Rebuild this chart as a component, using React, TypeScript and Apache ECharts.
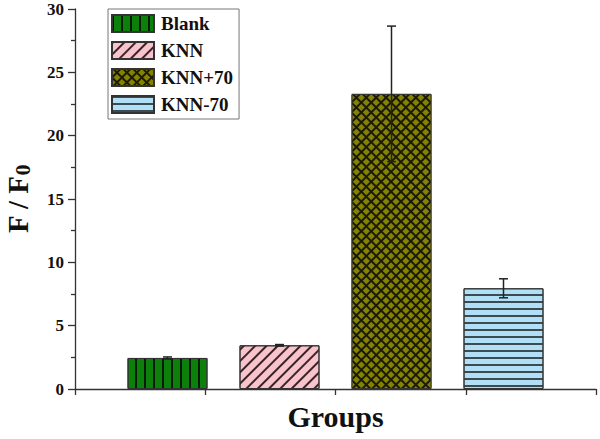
import React, { useEffect, useRef } from "react";
import * as echarts from "echarts";

const groups = ["Blank", "KNN", "KNN+70", "KNN-70"];
const means = [2.45, 3.45, 23.3, 7.95];
const errors = [0.08, 0.06, 5.35, 0.75];
const yTicks = [0, 5, 10, 15, 20, 25, 30];

const BAR_WIDTH = 80;
const BAR_GAP = 0.4;
const FONT = "'Liberation Serif', 'Times New Roman', serif";

const decals: any[] = [
  { color: "#0a1a0a", dashArrayX: [1.6, 6.4], dashArrayY: [1, 0], symbol: "rect" },
  { color: "#3a2328", dashArrayX: [1, 0], dashArrayY: [1.3, 5.7], rotation: -Math.PI / 4, symbol: "rect" },
  { color: "#848200", dashArrayX: [4.2, 1.5], dashArrayY: [4.2, 1.5], rotation: Math.PI / 4, symbol: "rect" },
  { color: "#3c4a52", dashArrayX: [1, 0], dashArrayY: [1.1, 4.2], symbol: "rect" },
];
const baseColors = ["#0b800b", "#f9c3cb", "#1a1a05", "#b1e0f6"];

export default function App() {
  const ref = useRef<HTMLDivElement>(null);
  useEffect(() => {
    if (!ref.current) return;
    const chart = echarts.init(ref.current, undefined, { renderer: "svg" });
    const barSeries = groups.map((g, i) => ({
      name: g,
      type: "bar",
      xAxisIndex: 0,
      data: [means[i]],
      barWidth: BAR_WIDTH,
      barGap: `${BAR_GAP * 100}%`,
      itemStyle: {
        color: baseColors[i],
        borderColor: "#333",
        borderWidth: 1,
        decal: decals[i],
      },
    }));
    const errData = groups.map((g, i) => [0, i, means[i], errors[i]]);
    const option: any = {
      animation: false,
      aria: { enabled: false, decal: { show: true } },
      grid: { left: 75, right: 4, top: 9, bottom: 50, containLabel: false, outerBoundsMode: "none" },
      legend: {
        left: 108,
        top: 9,
        orient: "vertical",
        itemWidth: 42,
        itemHeight: 17,
        itemGap: 8,
        padding: [5, 6, 5, 3],
        borderColor: "#777",
        borderWidth: 1,
        icon: "rect",
        textStyle: { fontFamily: FONT, fontWeight: "bold", fontSize: 19, color: "#111", padding: [0, 0, 0, 2] },
        data: groups,
      },
      xAxis: [
        {
          type: "category",
          data: ["Groups"],
          axisLine: { show: false },
          axisTick: { show: false },
          axisLabel: { show: false },
          name: "Groups",
          nameLocation: "middle",
          nameGap: 12,
          nameTextStyle: { fontFamily: FONT, fontWeight: "bold", fontSize: 30, color: "#111" },
        },
        {
          type: "value",
          min: 0,
          max: 4,
          interval: 1,
          position: "bottom",
          axisLine: { show: true, lineStyle: { color: "#333", width: 1.3 } },
          axisTick: { show: true, length: 6, lineStyle: { color: "#333", width: 1.3 } },
          axisLabel: { show: false },
          splitLine: { show: false },
        },
      ],
      yAxis: {
        type: "value",
        min: 0,
        max: 30,
        interval: 5,
        name: "F / F{sub|0}",
        nameLocation: "middle",
        nameGap: 42,
        nameTextStyle: {
          fontFamily: FONT,
          fontWeight: "bold",
          fontSize: 29,
          lineHeight: 30,
          color: "#111",
          rich: {
            sub: { fontFamily: FONT, fontWeight: "bold", fontSize: 22, lineHeight: 22, color: "#111", verticalAlign: "bottom" },
          },
        },
        axisLine: { show: true, lineStyle: { color: "#333", width: 1.3 } },
        axisTick: { show: true, length: 7, lineStyle: { color: "#333", width: 1.3 } },
        minorTick: { show: true, splitNumber: 2, length: 4, lineStyle: { color: "#333", width: 1.3 } },
        axisLabel: {
          margin: 11,
          fontFamily: FONT,
          fontWeight: "bold",
          fontSize: 17,
          color: "#111",
          formatter: (v: number) => (yTicks.includes(v) ? String(v) : ""),
        },
        splitLine: { show: false },
      },
      series: [
        ...barSeries,
        {
          type: "custom",
          xAxisIndex: 0,
          data: errData,
          encode: { x: 0, y: 2 },
          silent: true,
          z: 10,
          renderItem: (params: any, api: any) => {
            const idx = api.value(1);
            const m = api.value(2);
            const e = api.value(3);
            const n = groups.length;
            const step = BAR_WIDTH * (1 + BAR_GAP);
            const off = (idx - (n - 1) / 2) * step;
            const top = api.coord([api.value(0), m + e]);
            const bot = api.coord([api.value(0), m - e]);
            const x = top[0] + off;
            const cap = 4.5;
            const style = { stroke: "#222", lineWidth: 1.5 };
            return {
              type: "group",
              children: [
                { type: "line", shape: { x1: x, y1: top[1], x2: x, y2: bot[1] }, style },
                { type: "line", shape: { x1: x - cap, y1: top[1], x2: x + cap, y2: top[1] }, style },
                { type: "line", shape: { x1: x - cap, y1: bot[1], x2: x + cap, y2: bot[1] }, style },
              ],
            };
          },
        },
      ],
    };
    chart.setOption(option);
    return () => chart.dispose();
  }, []);
  return <div ref={ref} style={{ width: 600, height: 439, position: "absolute", left: 0, top: 0, background: "#fff" }} />;
}
